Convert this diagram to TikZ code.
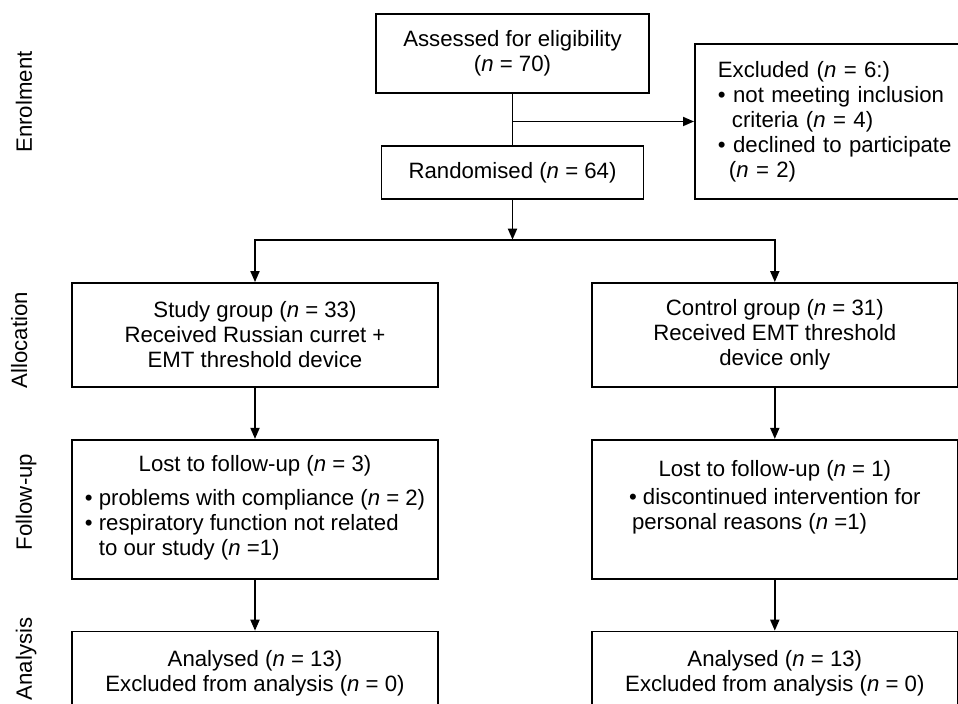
\documentclass[tikz,border=0pt]{standalone}
\usepackage{fontspec}
\setmainfont{Liberation Sans}
\usetikzlibrary{arrows.meta, positioning}

\newcommand{\ncount}{\textit{n}}

\begin{document}
\begin{tikzpicture}[x=0.5pt, y=-0.5pt, >={Triangle[width=4.5pt, length=5.5pt]}, line width=0.9pt,
    every node/.style={font=\fontsize{11.1}{12.5}\selectfont},
    flowbox/.style={draw, align=center, inner sep=0pt},
    wide/.style={flowbox, minimum width=183pt},
    phase/.style={rotate=90, anchor=base}]
    \useasboundingbox (0,0) rectangle (958,704);
    \clip (0,0) rectangle (958,704);

    % phases
    \node[phase] (enrol) at (32,102) {Enrolment};
    \node[phase] (alloc) at (27,340) {Allocation};
    \node[phase] (follow) at (32,502) {Follow-up};
    \node[phase] (analysis) at (32,659) {Analysis};

    % enrolment
    \node[flowbox, minimum width=136.5pt, minimum height=39.5pt] (assess) at (512.5,53.5) {Assessed for eligibility\\(\ncount{} = 70)};
    \node[flowbox, minimum width=131pt, minimum height=26.5pt, below=25.5pt of assess] (rand) {Randomised (\ncount{} = 64)};
    \node[flowbox, align=left, anchor=west, inner xsep=11.5pt, text width=122pt, minimum height=77.5pt] (excl) at (694,121.5) {Excluded (\ncount{} = 6:)\\\textbullet{} not meeting inclusion\\\hspace*{7pt}criteria (\ncount{} = 4)\\\textbullet{} declined to participate\\\hspace*{5.5pt}(\ncount{} = 2)};

    % allocation
    \node[wide, minimum height=52pt] (study) at (255,335) {Study group (\ncount{} = 33)\\Received Russian curret +\\EMT threshold device};
    \node[wide, minimum height=52pt, right=76pt of study] (control) {Control group (\ncount{} = 31)\\Received EMT threshold\\device only};

    % follow-up
    \node[wide, minimum height=69.5pt, below=25.5pt of study] (lostA) {Lost to follow-up (\ncount{} = 3)\\[4.5pt]\begin{tabular}[t]{@{}l@{}}\textbullet{} problems with compliance (\ncount{} = 2)\\\textbullet{} respiratory function not related\\\hspace*{7pt}to our study (\ncount{} =1)\end{tabular}};
    \node[wide, minimum height=69.5pt, below=25.5pt of control] (lostB) {Lost to follow-up (\ncount{} = 1)\\[1.5pt]\begin{tabular}[t]{@{}l@{}}\textbullet{} discontinued intervention for\\\hspace*{1.5pt}personal reasons (\ncount{} =1)\\[-2pt]\mbox{}\end{tabular}};

    % analysis
    \node[wide, minimum height=41.5pt, below=25.5pt of lostA] (anaA) {Analysed (\ncount{} = 13)\\Excluded from analysis (\ncount{} = 0)};
    \node[wide, minimum height=41.5pt, below=25.5pt of lostB] (anaB) {Analysed (\ncount{} = 13)\\Excluded from analysis (\ncount{} = 0)};

    % connectors
    \draw (assess) -- (rand);
    \draw[->] (assess.south |- excl.west) -- (excl.west);
    \coordinate (fork) at ([yshift=-20pt]rand.south);
    \draw[->] (rand) -- (fork);
    \draw[<->] (study) |- (fork) -| (control);
    \draw[->] (study) -- (lostA);
    \draw[->] (control) -- (lostB);
    \draw[->] (lostA) -- (anaA);
    \draw[->] (lostB) -- (anaB);
\end{tikzpicture}
\end{document}
